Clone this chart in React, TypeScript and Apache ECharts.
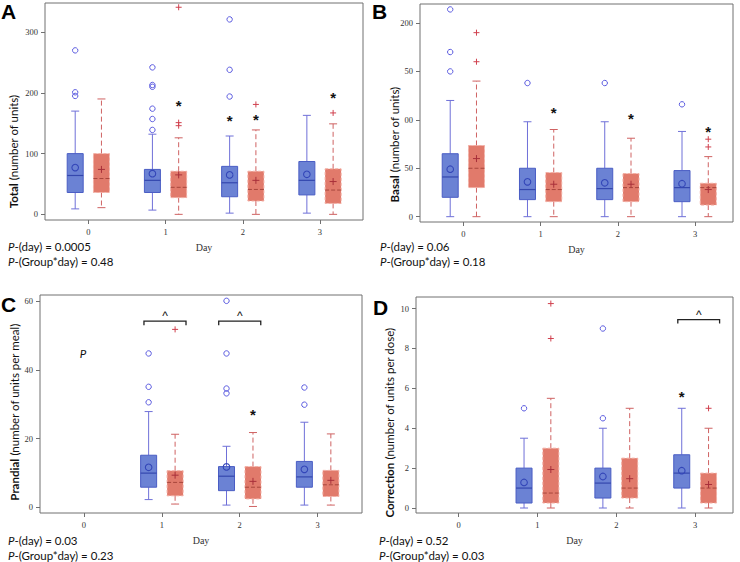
import React, { useEffect, useRef } from "react";
import * as echarts from "echarts";

// ---------- DATA ----------
const DAYS = [0, 1, 2, 3];
// rows: [min, q1, median, q3, max, mean]
const A_BLUE = [[9, 36, 64, 100, 170, 77], [7, 36, 56, 74, 132, 67], [2, 29, 52, 79, 129, 65], [2, 32, 56, 87, 163, 66]];
const A_RED = [[11, 36, 59, 100, 190, 74], [0, 27.5, 44.5, 71, 126, 65], [0, 22, 41, 71, 139, 56], [0, 18, 40, 75, 149, 54]];
const A_BLUE_OUT = [[0, 270], [0, 201], [0, 195], [1, 242], [1, 213], [1, 210], [1, 174], [1, 157], [1, 139], [2, 321], [2, 238], [2, 194]];
const A_RED_OUT = [[1, 341], [1, 151], [1, 146], [2, 181], [3, 167]];
const A_STARS = [[1, 1, 184], [2, -1, 160], [2, 1, 161], [3, 1, 198]];

const B_BLUE = [[0, 20, 41, 65, 120, 49], [0, 17.6, 28, 50, 98, 36], [0, 17.6, 29, 50, 98, 35], [0, 15.5, 30, 47.6, 88, 34]];
const B_RED = [[0, 30, 50, 73.5, 140, 60], [0, 15.5, 28, 45.5, 90, 33.5], [0, 15.5, 30, 44.5, 81, 33.5], [0, 12, 30, 34.5, 62, 28]];
const B_BLUE_OUT = [[0, 214], [0, 170], [0, 150], [1, 138], [2, 138], [3, 116]];
const B_RED_OUT = [[0, 190], [0, 160], [3, 80], [3, 72]];
const B_STARS = [[1, 1, 111], [2, 1, 104], [3, 1, 91]];

const C_BLUE = [null, [2.3, 5.9, 10, 15.2, 27.9, 11.7], [0.7, 4.9, 9.1, 11.9, 17.8, 11.8], [0.7, 5.9, 8.9, 13.4, 24.8, 11.1]];
const C_RED = [null, [1, 3.4, 7.3, 10.7, 21.3, 9.4], [0.3, 2.5, 5.9, 11.9, 21.8, 7.6], [0.7, 3.2, 6.6, 10.8, 21.4, 7.9]];
const C_BLUE_OUT = [[1, 44.8], [1, 35.1], [1, 30.6], [2, 60.1], [2, 44.8], [2, 34.6], [2, 33.2], [3, 34.9], [3, 29.9]];
const C_RED_OUT = [[1, 51.8]];
const C_STARS = [[2, 1, 27.8]];
const C_BRACKETS = [[0.77, 1.31, 54.2], [1.73, 2.27, 54.2]];

const D_BLUE = [null, [0, 0.25, 1, 2, 3.5, 1.28], [0, 0.5, 1.25, 2, 4, 1.58], [0, 1, 1.75, 2.67, 5, 1.87]];
const D_RED = [null, [0, 0.25, 0.75, 3, 5.5, 1.93], [0, 0.5, 1, 2.5, 5, 1.47], [0, 0.25, 1, 1.75, 4, 1.18]];
const D_BLUE_OUT = [[1, 5], [2, 9], [2, 4.5]];
const D_RED_OUT = [[1, 10.25], [1, 8.5], [3, 5]];
const D_STARS = [[3, -1, 5.72]];
const D_BRACKETS = [[2.78, 3.31, 9.45]];

const A_Y_TICKS = [0, 100, 200, 300];
const B_Y_TICKS = [0, 50, 100, 150, 200];
const B_Y_LABELS = ["0", "50", "00", "50", "200"];
const C_Y_TICKS = [0, 20, 40, 60];
const D_Y_TICKS = [0, 2, 4, 6, 8, 10];

const TITLES = [
  ["Total", " (number of units)"],
  ["Basal", " (number of units)"],
  ["Prandial", " (number of units per meal)"],
  ["Correction", " (number of units per dose)"],
];
const P_TEXTS = [
  ["0.0005", "0.48"],
  ["0.06", "0.18"],
  ["0.03", "0.23"],
  ["0.52", "0.03"],
];
const LETTERS = ["A", "B", "C", "D"];

// ---------- LAYOUT / STYLE ----------
const GRIDS = [
  { left: 45, top: 3, width: 318, height: 217 },
  { left: 420, top: 4, width: 313, height: 218 },
  { left: 40, top: 295, width: 322, height: 218 },
  { left: 416, top: 297, width: 317, height: 216 },
];
const X_RANGES = [[-0.561, 3.557], [-0.561, 3.49], [-0.565, 3.57], [-0.54, 3.48]];
const Y_RANGES = [[-9.3, 348], [-5.5, 219.6], [-1.6, 61.8], [-0.25, 10.58]];
const Y_TICKS = [A_Y_TICKS, B_Y_TICKS, C_Y_TICKS, D_Y_TICKS];
const TITLE_POS = [[13.5, 151.5], [394, 144.5], [14, 412], [389, 422.5]];
const P_POS = [[8, 254], [380, 254], [8, 548], [379, 548]];
const LETTER_POS = [[1, 1], [372, 1], [1, 294], [373, 297]];

const OFF = 0.17;
const SERIF = "'Liberation Serif', 'DejaVu Serif', serif";
const SANS = "Lato, 'Open Sans', sans-serif";

const BLUE = {
  fill: "#6b82d4",
  border: "#4a5dc4",
  median: "#3447ae",
  whisker: "#6f70d8",
  mean: "#3346b8",
  out: "#5a5ae0",
};
const RED = {
  fill: "#e17a6b",
  border: "#f3aea3",
  median: "#a8463c",
  whisker: "#cf6262",
  mean: "#a8303a",
  out: "#d0404e",
};

function rowsOf(arr: any[]) {
  return DAYS.map((d, i) => (arr[i] ? [d, ...arr[i]] : null)).filter(Boolean);
}

function boxSeries(panel: number, arr: any[], sign: number) {
  const st = sign < 0 ? BLUE : RED;
  const red = sign > 0;
  return {
    type: "custom",
    xAxisIndex: panel,
    yAxisIndex: panel,
    silent: true,
    clip: false,
    z: 3,
    data: rowsOf(arr),
    renderItem: (params: any, api: any) => {
      const x = api.value(0) + sign * OFF;
      const c = (v: number) => api.coord([x, v]);
      const cx = c(api.value(1))[0];
      const yMin = c(api.value(1))[1];
      const yQ1 = c(api.value(2))[1];
      const yMed = c(api.value(3))[1];
      const yQ3 = c(api.value(4))[1];
      const yMax = c(api.value(5))[1];
      const yMean = c(api.value(6))[1];
      const hw = 8;
      const cap = 4;
      const wStyle: any = { stroke: st.whisker, lineWidth: 1 };
      if (red) wStyle.lineDash = [5, 3];
      const children: any[] = [
        { type: "line", shape: { x1: cx, y1: yQ3, x2: cx, y2: yMax }, style: wStyle },
        { type: "line", shape: { x1: cx, y1: yQ1, x2: cx, y2: yMin }, style: wStyle },
        { type: "line", shape: { x1: cx - cap, y1: yMax, x2: cx + cap, y2: yMax }, style: { stroke: st.whisker, lineWidth: 1 } },
        { type: "line", shape: { x1: cx - cap, y1: yMin, x2: cx + cap, y2: yMin }, style: { stroke: st.whisker, lineWidth: 1 } },
        {
          type: "rect",
          shape: { x: cx - hw, y: yQ3, width: 2 * hw, height: yQ1 - yQ3 },
          style: red
            ? { fill: st.fill, stroke: st.border, lineWidth: 1, lineDash: [3, 2] }
            : { fill: st.fill, stroke: st.border, lineWidth: 1 },
        },
        {
          type: "line",
          shape: { x1: cx - hw, y1: yMed, x2: cx + hw, y2: yMed },
          style: red ? { stroke: st.median, lineWidth: 1, lineDash: [4, 2] } : { stroke: st.median, lineWidth: 1.2 },
        },
      ];
      if (red) {
        children.push(
          { type: "line", shape: { x1: cx - 3.5, y1: yMean, x2: cx + 3.5, y2: yMean }, style: { stroke: st.mean, lineWidth: 1 } },
          { type: "line", shape: { x1: cx, y1: yMean - 3.5, x2: cx, y2: yMean + 3.5 }, style: { stroke: st.mean, lineWidth: 1 } }
        );
      } else {
        children.push({ type: "circle", shape: { cx, cy: yMean, r: 3.3 }, style: { fill: "none", stroke: st.mean, lineWidth: 1.1 } });
      }
      return { type: "group", children };
    },
  };
}

function outSeries(panel: number, pts: number[][], sign: number) {
  const st = sign < 0 ? BLUE : RED;
  return {
    type: "custom",
    xAxisIndex: panel,
    yAxisIndex: panel,
    silent: true,
    clip: false,
    z: 4,
    data: pts,
    renderItem: (params: any, api: any) => {
      const p = api.coord([api.value(0) + sign * OFF, api.value(1)]);
      if (sign < 0) {
        return { type: "circle", shape: { cx: p[0], cy: p[1], r: 2.7 }, style: { fill: "none", stroke: st.out, lineWidth: 1 } };
      }
      return {
        type: "group",
        children: [
          { type: "line", shape: { x1: p[0] - 3, y1: p[1], x2: p[0] + 3, y2: p[1] }, style: { stroke: st.out, lineWidth: 1 } },
          { type: "line", shape: { x1: p[0], y1: p[1] - 3, x2: p[0], y2: p[1] + 3 }, style: { stroke: st.out, lineWidth: 1 } },
        ],
      };
    },
  };
}

function starSeries(panel: number, stars: number[][]) {
  return {
    type: "custom",
    xAxisIndex: panel,
    yAxisIndex: panel,
    silent: true,
    clip: false,
    z: 5,
    data: stars,
    renderItem: (params: any, api: any) => {
      const p = api.coord([api.value(0) + api.value(1) * OFF, api.value(2)]);
      return {
        type: "text",
        x: p[0],
        y: p[1] + 3,
        style: { text: "*", fill: "#111", font: "bold 15px 'Liberation Sans', sans-serif", align: "center", verticalAlign: "middle" },
      };
    },
  };
}

function bracketSeries(panel: number, br: number[][]) {
  return {
    type: "custom",
    xAxisIndex: panel,
    yAxisIndex: panel,
    silent: true,
    clip: false,
    z: 5,
    data: br,
    renderItem: (params: any, api: any) => {
      const a = api.coord([api.value(0), api.value(2)]);
      const b = api.coord([api.value(1), api.value(2)]);
      const y = a[1];
      return {
        type: "group",
        children: [
          {
            type: "polyline",
            shape: { points: [[a[0], y + 4], [a[0], y], [b[0], y], [b[0], y + 4]] },
            style: { stroke: "#222", lineWidth: 1.3, fill: "none" },
          },
          {
            type: "text",
            x: (a[0] + b[0]) / 2,
            y: y + 1,
            style: { text: "^", fill: "#111", font: "12px 'Liberation Sans', sans-serif", align: "center", verticalAlign: "bottom" },
          },
        ],
      };
    },
  };
}

export default function App() {
  const ref = useRef<HTMLDivElement>(null);
  useEffect(() => {
    if (!ref.current) return;
    const chart = echarts.init(ref.current, undefined, { renderer: "svg" });

    const grid = GRIDS.map((g) => ({ ...g, containLabel: false, show: true, borderColor: "#707070", borderWidth: 1, backgroundColor: "transparent" }));
    const xAxis = GRIDS.map((g, i) => ({
      type: "value",
      gridIndex: i,
      position: "bottom",
      min: X_RANGES[i][0],
      max: X_RANGES[i][1],
      splitLine: { show: false },
      axisLine: { show: false, onZero: false },
      axisTick: { show: true, customValues: DAYS, length: 4, lineStyle: { color: "#707070" } },
      axisLabel: { customValues: DAYS, margin: 7, fontFamily: SERIF, fontSize: 8.5, color: "#333" },
      name: "Day",
      nameLocation: "middle",
      nameGap: 22,
      nameTextStyle: { fontFamily: SERIF, fontSize: 10, color: "#333" },
    }));
    const yAxis = GRIDS.map((g, i) => ({
      type: "value",
      gridIndex: i,
      position: "left",
      min: Y_RANGES[i][0],
      max: Y_RANGES[i][1],
      splitLine: { show: false },
      axisLine: { show: false, onZero: false },
      axisTick: { show: true, customValues: Y_TICKS[i], length: 4, lineStyle: { color: "#707070" } },
      axisLabel: {
        customValues: Y_TICKS[i],
        margin: 7,
        fontFamily: SERIF,
        fontSize: 8.5,
        color: "#333",
        formatter: i === 1 ? (v: number) => B_Y_LABELS[B_Y_TICKS.indexOf(v)] ?? String(v) : (v: number) => String(v),
      },
    }));

    const series: any[] = [
      boxSeries(0, A_BLUE, -1), boxSeries(0, A_RED, 1), outSeries(0, A_BLUE_OUT, -1), outSeries(0, A_RED_OUT, 1), starSeries(0, A_STARS),
      boxSeries(1, B_BLUE, -1), boxSeries(1, B_RED, 1), outSeries(1, B_BLUE_OUT, -1), outSeries(1, B_RED_OUT, 1), starSeries(1, B_STARS),
      boxSeries(2, C_BLUE, -1), boxSeries(2, C_RED, 1), outSeries(2, C_BLUE_OUT, -1), outSeries(2, C_RED_OUT, 1), starSeries(2, C_STARS), bracketSeries(2, C_BRACKETS),
      boxSeries(3, D_BLUE, -1), boxSeries(3, D_RED, 1), outSeries(3, D_BLUE_OUT, -1), outSeries(3, D_RED_OUT, 1), starSeries(3, D_STARS), bracketSeries(3, D_BRACKETS),
    ];

    const graphic: any[] = [];
    TITLES.forEach((t, i) => {
      graphic.push({
        type: "text",
        x: TITLE_POS[i][0],
        y: TITLE_POS[i][1],
        rotation: Math.PI / 2,
        style: {
          text: `{b|${t[0]}}${t[1]}`,
          fontFamily: SANS,
          fontSize: 11.5,
          fill: "#111",
          align: "center",
          verticalAlign: "middle",
          rich: { b: { fontFamily: SANS, fontSize: 11.5, fontWeight: "bold", fill: "#111" } },
        },
      });
    });
    P_TEXTS.forEach((p, i) => {
      graphic.push({
        type: "text",
        x: P_POS[i][0],
        y: P_POS[i][1],
        style: {
          text: `{i|P}-(day) = ${p[0]}\n{i|P}-(Group*day) = ${p[1]}`,
          fontFamily: SANS,
          fontSize: 11.5,
          lineHeight: 14.5,
          fill: "#111",
          align: "left",
          verticalAlign: "middle",
          rich: { i: { fontFamily: SANS, fontSize: 11.5, fontStyle: "italic", fill: "#111", lineHeight: 14.5 } },
        },
      });
    });
    LETTERS.forEach((l, i) => {
      graphic.push({
        type: "text",
        x: LETTER_POS[i][0],
        y: LETTER_POS[i][1],
        style: { text: l, font: "bold 21px 'Liberation Sans', Arial, sans-serif", fill: "#000", align: "left", verticalAlign: "top" },
      });
    });
    graphic.push({
      type: "text",
      x: 83,
      y: 353,
      style: { text: "P", fontFamily: SANS, fontSize: 11.5, fontStyle: "italic", fill: "#111", align: "center", verticalAlign: "middle" },
    });

    chart.setOption({
      animation: false,
      backgroundColor: "#fff",
      grid,
      xAxis,
      yAxis,
      series,
      graphic,
    });
    return () => chart.dispose();
  }, []);
  return <div ref={ref} style={{ position: "fixed", left: 0, top: 0, width: 740, height: 562, background: "#fff" }} />;
}
